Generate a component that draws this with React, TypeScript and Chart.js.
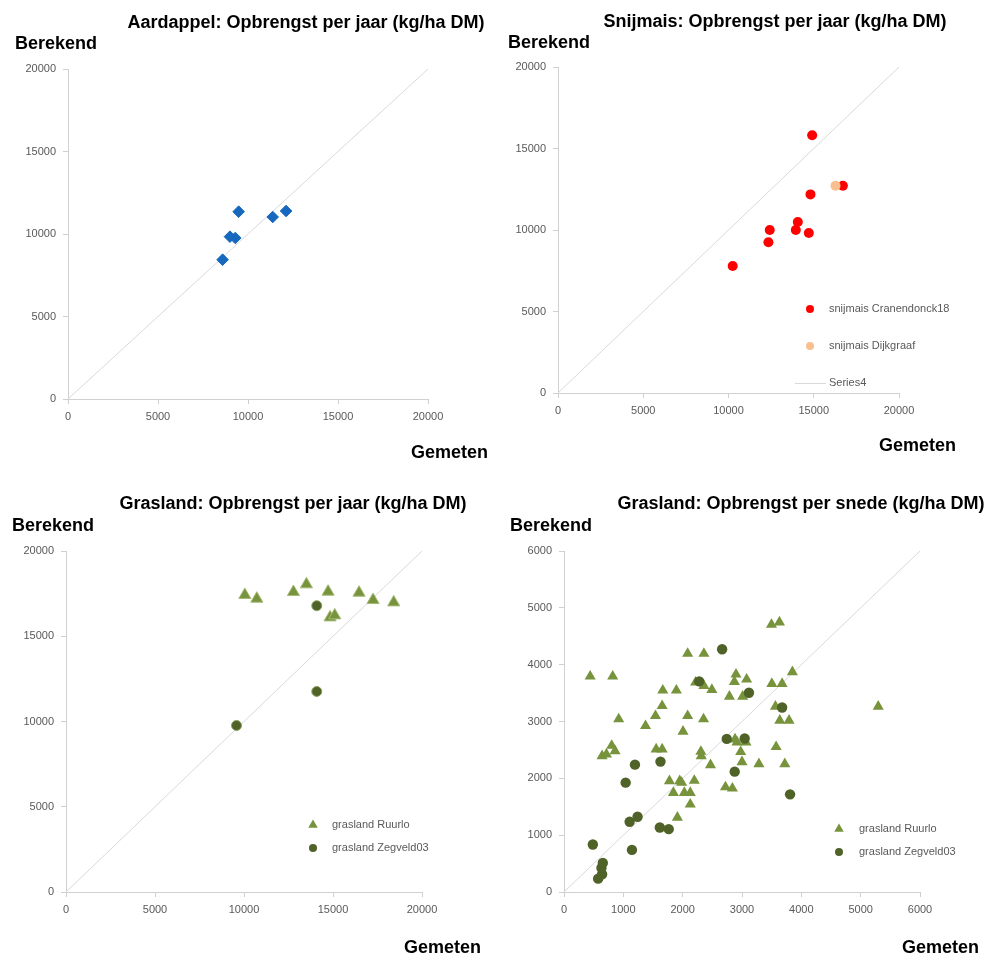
import React, { useEffect, useRef } from 'react';
import { Chart, registerables } from 'chart.js';

Chart.register(...registerables);

// ---------- data ----------
const diagonalYear = [
  { x: 0, y: 0 },
  { x: 20000, y: 20000 },
];
const diagonalCut = [
  { x: 0, y: 0 },
  { x: 6000, y: 6000 },
];

const yearTicks = [0, 5000, 10000, 15000, 20000];
const cutTicks = [0, 1000, 2000, 3000, 4000, 5000, 6000];

const aardappelGemeten = [8590, 8998, 9295, 9481, 11373, 12115];
const aardappelBerekend = [8444, 9838, 9758, 11354, 11030, 11394];

const cranendonckGemeten = [10245, 12341, 12419, 13947, 14065, 14711, 14809, 14907, 16709];
const cranendonckBerekend = [7796, 9245, 10000, 10000, 10490, 9816, 12184, 15816, 12714];
const dijkgraafGemeten = [16278];
const dijkgraafBerekend = [12714];

const ruurloJaarGemeten = [10047, 10720, 12778, 13508, 14724, 14836, 15098, 16464, 17250, 18410];
const ruurloJaarBerekend = [17417, 17202, 17593, 18043, 17613, 16106, 16223, 17554, 17123, 16986];
const zegveldJaarGemeten = [9579, 14088, 14088];
const zegveldJaarBerekend = [9765, 11761, 16791];

const ruurloSnedeGemeten = [
  441, 821, 922, 804, 642, 715, 860, 1374, 1542, 1654, 1665, 1553, 1654, 1894, 2006, 2084, 2084,
  2358, 2218, 2358, 2492, 2352, 2307, 2313, 2469, 1777, 1950, 1983, 2196, 1844, 2028, 2128, 2128,
  1911, 2788, 2899, 2872, 3078, 3011, 2883, 2916, 3067, 2978, 3000, 2721, 2838, 3285, 3503, 3676,
  3497, 3631, 3849, 3564, 3637, 3793, 3575, 3721, 5296,
];
const ruurloSnedeBerekend = [
  3794, 3794, 3041, 2576, 2394, 2424, 2482, 2924, 3100, 3276, 3547, 2512, 2512, 3547, 2824, 4194,
  3100, 4194, 3688, 3629, 3559, 3041, 2471, 2394, 2235, 1953, 1953, 1924, 1959, 1747, 1747, 1747,
  1541, 1312, 3441, 3829, 3700, 3741, 3441, 2688, 2635, 2635, 2465, 2288, 1847, 1824, 2253, 3665,
  3665, 4706, 4747, 3871, 3265, 3018, 3018, 2553, 2253, 3265,
];
const zegveldSnedeGemeten = [
  486, 575, 642, 631, 654, 1039, 1196, 1106, 1240, 1145, 1615, 1765, 1626, 2279, 2665, 2743, 3045,
  2877, 3117, 3676, 3810,
];
const zegveldSnedeBerekend = [
  835, 235, 312, 424, 512, 1924, 2241, 1235, 1324, 741, 1135, 1106, 2294, 3706, 4271, 2694, 2700,
  2118, 3506, 3247, 1718,
];

const titles = [
  'Aardappel: Opbrengst per jaar (kg/ha DM)',
  'Snijmais: Opbrengst per jaar (kg/ha DM)',
  'Grasland: Opbrengst per jaar (kg/ha DM)',
  'Grasland: Opbrengst per snede (kg/ha DM)',
];
const yTitle = 'Berekend';
const xTitle = 'Gemeten';

// ---------- styling ----------
const FONT = '"Liberation Sans", Arial, sans-serif';
const BLUE = '#1668BE';
const RED = '#FF0000';
const PEACH = '#F9BF8F';
const GREEN = '#77933C';
const DARK = '#4F6228';
const AXIS = '#D0D0D0';
const DIAG = '#D9D9D9';
const TICK = '#595959';

const pts = (xs: number[], ys: number[]) => xs.map((x, i) => ({ x, y: ys[i] }));

type LegendItem = { label: string; kind: 'circle' | 'triangle' | 'line'; color: string; y: number };

type Panel = {
  left: number;
  top: number;
  w: number;
  h: number;
  area: { left: number; top: number; right: number; bottom: number };
  title: string;
  titleX: number;
  titleY: number;
  yTitleX: number;
  yTitleY: number;
  xTitleRight: number;
  xTitleY: number;
  max: number;
  ticks: number[];
  datasets: any[];
  legendX?: number;
  legendTextX?: number;
  legend?: LegendItem[];
};

const diagSet = (data: any[]) => ({
  label: 'Series4',
  data,
  showLine: true,
  borderColor: DIAG,
  borderWidth: 1,
  pointRadius: 0,
  fill: false,
});

const panels: Panel[] = [
  {
    left: 0,
    top: 0,
    w: 495,
    h: 480,
    area: { left: 68, top: 69, right: 428, bottom: 399 },
    title: titles[0],
    titleX: 306,
    titleY: 23,
    yTitleX: 15,
    yTitleY: 44,
    xTitleRight: 488,
    xTitleY: 453,
    max: 20000,
    ticks: yearTicks,
    datasets: [
      {
        label: 'aardappel',
        data: pts(aardappelGemeten, aardappelBerekend),
        pointStyle: 'rectRot',
        pointRadius: 5.8,
        backgroundColor: BLUE,
        borderColor: BLUE,
        borderWidth: 1,
      },
      diagSet(diagonalYear),
    ],
  },
  {
    left: 495,
    top: 0,
    w: 496,
    h: 480,
    area: { left: 63, top: 67, right: 404, bottom: 393 },
    title: titles[1],
    titleX: 280,
    titleY: 22,
    yTitleX: 13,
    yTitleY: 43,
    xTitleRight: 461,
    xTitleY: 446,
    max: 20000,
    ticks: yearTicks,
    datasets: [
      {
        label: 'snijmais Dijkgraaf',
        data: pts(dijkgraafGemeten, dijkgraafBerekend),
        pointStyle: 'circle',
        pointRadius: 5,
        backgroundColor: PEACH,
        borderColor: PEACH,
        borderWidth: 0,
      },
      {
        label: 'snijmais Cranendonck18',
        data: pts(cranendonckGemeten, cranendonckBerekend),
        pointStyle: 'circle',
        pointRadius: 5,
        backgroundColor: RED,
        borderColor: RED,
        borderWidth: 0,
      },
      diagSet(diagonalYear),
    ],
    legendX: 315,
    legendTextX: 334,
    legend: [
      { label: 'snijmais Cranendonck18', kind: 'circle', color: RED, y: 309 },
      { label: 'snijmais Dijkgraaf', kind: 'circle', color: PEACH, y: 346 },
      { label: 'Series4', kind: 'line', color: DIAG, y: 383 },
    ],
  },
  {
    left: 0,
    top: 480,
    w: 495,
    h: 479,
    area: { left: 66, top: 71, right: 422, bottom: 412 },
    title: titles[2],
    titleX: 293,
    titleY: 24,
    yTitleX: 12,
    yTitleY: 46,
    xTitleRight: 481,
    xTitleY: 468,
    max: 20000,
    ticks: yearTicks,
    datasets: [
      {
        label: 'grasland Zegveld03',
        data: pts(zegveldJaarGemeten, zegveldJaarBerekend),
        pointStyle: 'circle',
        pointRadius: 5,
        backgroundColor: DARK,
        borderColor: '#8FA05E',
        borderWidth: 1,
      },
      {
        label: 'grasland Ruurlo',
        data: pts(ruurloJaarGemeten, ruurloJaarBerekend),
        pointStyle: 'triangle',
        pointRadius: 7,
        backgroundColor: GREEN,
        borderColor: '#A5BA78',
        borderWidth: 1,
      },
      diagSet(diagonalYear),
    ],
    legendX: 313,
    legendTextX: 332,
    legend: [
      { label: 'grasland Ruurlo', kind: 'triangle', color: GREEN, y: 345 },
      { label: 'grasland Zegveld03', kind: 'circle', color: DARK, y: 368 },
    ],
  },
  {
    left: 495,
    top: 480,
    w: 496,
    h: 479,
    area: { left: 69, top: 71, right: 425, bottom: 412 },
    title: titles[3],
    titleX: 306,
    titleY: 24,
    yTitleX: 15,
    yTitleY: 46,
    xTitleRight: 484,
    xTitleY: 468,
    max: 6000,
    ticks: cutTicks,
    datasets: [
      {
        label: 'grasland Zegveld03',
        data: pts(zegveldSnedeGemeten, zegveldSnedeBerekend),
        pointStyle: 'circle',
        pointRadius: 5.2,
        backgroundColor: DARK,
        borderColor: DARK,
        borderWidth: 0,
      },
      {
        label: 'grasland Ruurlo',
        data: pts(ruurloSnedeGemeten, ruurloSnedeBerekend),
        pointStyle: 'triangle',
        pointRadius: 6.4,
        backgroundColor: GREEN,
        borderColor: GREEN,
        borderWidth: 0,
      },
      diagSet(diagonalCut),
    ],
    legendX: 344,
    legendTextX: 364,
    legend: [
      { label: 'grasland Ruurlo', kind: 'triangle', color: GREEN, y: 349 },
      { label: 'grasland Zegveld03', kind: 'circle', color: DARK, y: 372 },
    ],
  },
];

function makeTextPlugin(p: Panel) {
  return {
    id: 'panelTexts',
    afterDraw(chart: any) {
      const ctx = chart.ctx as CanvasRenderingContext2D;
      ctx.save();
      ctx.fillStyle = '#000000';
      ctx.textBaseline = 'middle';
      ctx.font = `bold 18px ${FONT}`;
      ctx.textAlign = 'center';
      ctx.fillText(p.title, p.titleX, p.titleY);
      ctx.textAlign = 'left';
      ctx.fillText(yTitle, p.yTitleX, p.yTitleY);
      ctx.textAlign = 'right';
      ctx.fillText(xTitle, p.xTitleRight, p.xTitleY);

      if (p.legend) {
        ctx.font = `11px ${FONT}`;
        ctx.textAlign = 'left';
        const mx = p.legendX as number;
        for (const item of p.legend) {
          ctx.fillStyle = item.color;
          ctx.strokeStyle = item.color;
          if (item.kind === 'circle') {
            ctx.beginPath();
            ctx.arc(mx, item.y, 4, 0, Math.PI * 2);
            ctx.fill();
          } else if (item.kind === 'triangle') {
            const r = 5.5;
            ctx.beginPath();
            ctx.moveTo(mx, item.y - r);
            ctx.lineTo(mx + r * 0.866, item.y + r * 0.5);
            ctx.lineTo(mx - r * 0.866, item.y + r * 0.5);
            ctx.closePath();
            ctx.fill();
          } else {
            ctx.lineWidth = 1;
            ctx.beginPath();
            ctx.moveTo(mx - 15, item.y + 0.5);
            ctx.lineTo(mx + 16, item.y + 0.5);
            ctx.stroke();
          }
          ctx.fillStyle = TICK;
          ctx.fillText(item.label, p.legendTextX as number, item.y);
        }
      }
      ctx.restore();
    },
  };
}

function PanelChart({ p }: { p: Panel }) {
  const ref = useRef<HTMLCanvasElement | null>(null);
  useEffect(() => {
    if (!ref.current) return;
    const xHeight = 30;
    const plainLabel = (v: any) => String(v);
    const chart = new Chart(ref.current, {
      type: 'scatter',
      data: { datasets: p.datasets },
      options: {
        animation: false,
        responsive: false,
        devicePixelRatio: 1,
        events: [],
        layout: {
          padding: {
            left: 0,
            top: p.area.top,
            right: p.w - p.area.right,
            bottom: p.h - p.area.bottom - xHeight,
          },
        },
        plugins: {
          legend: { display: false },
          tooltip: { enabled: false },
          title: { display: false },
        },
        scales: {
          x: {
            type: 'linear',
            min: 0,
            max: p.max,
            afterBuildTicks: (s: any) => {
              s.ticks = p.ticks.map((v) => ({ value: v }));
            },
            afterFit: (s: any) => {
              s.height = xHeight;
            },
            grid: {
              display: true,
              drawOnChartArea: false,
              drawTicks: true,
              tickLength: 5,
              color: AXIS,
            },
            border: { display: true, color: AXIS, width: 1 },
            ticks: {
              color: TICK,
              font: { family: FONT, size: 11 },
              padding: 6,
              maxRotation: 0,
              autoSkip: false,
              callback: plainLabel,
            },
          },
          y: {
            type: 'linear',
            min: 0,
            max: p.max,
            afterBuildTicks: (s: any) => {
              s.ticks = p.ticks.map((v) => ({ value: v }));
            },
            afterFit: (s: any) => {
              s.width = p.area.left;
            },
            grid: {
              display: true,
              drawOnChartArea: false,
              drawTicks: true,
              tickLength: 5,
              color: AXIS,
            },
            border: { display: true, color: AXIS, width: 1 },
            ticks: {
              color: TICK,
              font: { family: FONT, size: 11 },
              padding: 7,
              autoSkip: false,
              callback: plainLabel,
            },
          },
        },
      },
      plugins: [makeTextPlugin(p)],
    } as any);
    return () => chart.destroy();
  }, [p]);
  return (
    <canvas
      ref={ref}
      width={p.w}
      height={p.h}
      style={{ position: 'absolute', left: p.left, top: p.top, width: p.w, height: p.h }}
    />
  );
}

export default function App() {
  return (
    <div
      style={{
        position: 'absolute',
        left: 0,
        top: 0,
        width: 991,
        height: 959,
        background: '#ffffff',
        overflow: 'hidden',
      }}
    >
      {panels.map((p, i) => (
        <PanelChart key={i} p={p} />
      ))}
    </div>
  );
}
